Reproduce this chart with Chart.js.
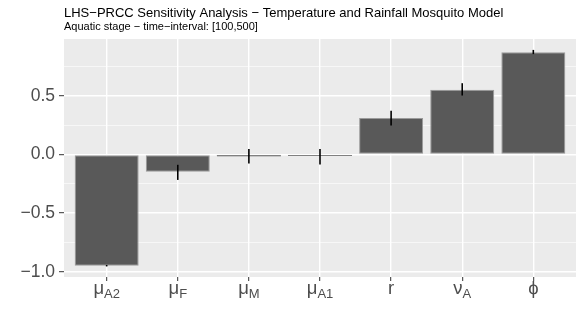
<!DOCTYPE html>
<html>
<head>
<meta charset="utf-8">
<script src="https://cdn.jsdelivr.net/npm/chart.js@4"></script>
<style>
  html, body { margin: 0; padding: 0; background: #ffffff; }
  #wrap { width: 581px; height: 324px; position: relative; }
</style>
</head>
<body>
<div id="wrap"><canvas id="chart-prcc"></canvas></div>
<script>
  const labelMain = ["μ", "μ", "μ", "μ", "r", "ν", "ϕ"];
  const labelSub = ["A2", "F", "M", "A1", "", "A", ""];
  const prcc = [-0.948, -0.148, -0.016, -0.014, 0.312, 0.553, 0.873];
  const errLow = [-0.955, -0.217, -0.077, -0.085, 0.247, 0.503, 0.856];
  const errHigh = [-0.942, -0.088, 0.046, 0.046, 0.372, 0.608, 0.892];
  const yTicks = [-1, -0.75, -0.5, -0.25, 0, 0.25, 0.5, 0.75];

  const title = "LHS−PRCC Sensitivity Analysis − Temperature and Rainfall Mosquito Model";
  const subtitle = "Aquatic stage − time−interval: [100,500]";

  const font = "'Liberation Sans', Arial, 'DejaVu Sans', sans-serif";
  const axisText = "#4d4d4d";
  const panel = "#ebebeb";

  const isMajor = (v) => Math.abs(v * 2 - Math.round(v * 2)) < 1e-9;

  const panelBg = {
    id: "panelBg",
    beforeDraw(chart) {
      const { ctx, chartArea: a } = chart;
      ctx.save();
      ctx.fillStyle = panel;
      ctx.fillRect(a.left, a.top, a.right - a.left, a.bottom - a.top);
      ctx.restore();
    },
  };

  const errorBars = {
    id: "errorBars",
    afterDatasetsDraw(chart) {
      const { ctx, scales } = chart;
      ctx.save();
      ctx.strokeStyle = "#000000";
      ctx.lineWidth = 1.6;
      prcc.forEach((_, i) => {
        const x = scales.x.getPixelForValue(i);
        ctx.beginPath();
        ctx.moveTo(x, scales.y.getPixelForValue(errLow[i]));
        ctx.lineTo(x, scales.y.getPixelForValue(errHigh[i]));
        ctx.stroke();
      });
      ctx.restore();
    },
  };

  const texts = {
    id: "texts",
    afterDraw(chart) {
      const { ctx, scales, chartArea } = chart;
      ctx.save();
      ctx.textBaseline = "alphabetic";
      ctx.textAlign = "left";
      ctx.fillStyle = "#000000";
      ctx.font = `13px ${font}`;
      ctx.fillText(title, chartArea.left, 17);
      ctx.font = `11px ${font}`;
      ctx.fillText(subtitle, chartArea.left, 30);

      ctx.fillStyle = axisText;
      const mainFont = `18.5px ${font}`;
      const subFont = `13px ${font}`;
      const base = chartArea.bottom + 16.5;
      labelMain.forEach((m, i) => {
        const cx = scales.x.getPixelForValue(i);
        ctx.font = mainFont;
        const wm = ctx.measureText(m).width;
        ctx.font = subFont;
        const ws = labelSub[i] ? ctx.measureText(labelSub[i]).width : 0;
        const x0 = cx - (wm + ws) / 2;
        ctx.font = mainFont;
        ctx.fillText(m, x0, base);
        if (labelSub[i]) {
          ctx.font = subFont;
          ctx.fillText(labelSub[i], x0 + wm, base + 4);
        }
      });
      ctx.restore();
    },
  };

  new Chart(document.getElementById("chart-prcc"), {
    type: "bar",
    data: {
      datasets: [
        {
          data: prcc.map((v, i) => ({ x: i, y: v })),
          backgroundColor: "#595959",
          borderColor: "#9a9a9a",
          // thin bars would be all border otherwise
          borderWidth: (c) => (c.raw && Math.abs(c.raw.y) < 0.05 ? 0 : 1),
          borderSkipped: false,
          categoryPercentage: 1,
          barPercentage: 0.9,
        },
      ],
    },
    options: {
      responsive: true,
      maintainAspectRatio: false,
      animation: false,
      layout: { padding: { top: 39, right: 5, left: 0, bottom: 0 } },
      plugins: { legend: { display: false }, tooltip: { enabled: false }, title: { display: false } },
      scales: {
        x: {
          type: "linear",
          offset: false,
          min: -0.6,
          max: 6.6,
          afterBuildTicks(scale) {
            scale.ticks = labelMain.map((_, i) => ({ value: i }));
          },
          afterFit(scale) {
            scale.height = 47;
          },
          border: { display: false },
          grid: {
            offset: false,
            color: "#ffffff",
            lineWidth: 1.4,
            drawTicks: true,
            tickLength: 4,
            tickColor: "#333333",
            tickWidth: 1,
          },
          ticks: { callback: () => "", padding: 0 },
        },
        y: {
          min: -1.045,
          max: 0.985,
          afterBuildTicks(scale) {
            scale.ticks = yTicks.map((v) => ({ value: v }));
          },
          afterFit(scale) {
            scale.width = 64;
          },
          border: { display: false },
          grid: {
            color: "#ffffff",
            lineWidth: (c) => (c.tick && isMajor(c.tick.value) ? 1.4 : 0.6),
            drawTicks: true,
            tickLength: 5,
            tickColor: (c) => (c.tick && isMajor(c.tick.value) ? "#333333" : "rgba(0,0,0,0)"),
            tickWidth: 1,
          },
          ticks: {
            color: axisText,
            font: { family: font, size: 17.5 },
            padding: 4,
            callback: (v) => (isMajor(v) ? (v < 0 ? "−" + Math.abs(v).toFixed(1) : v.toFixed(1)) : ""),
          },
        },
      },
    },
    plugins: [panelBg, errorBars, texts],
  });
</script>
</body>
</html>
